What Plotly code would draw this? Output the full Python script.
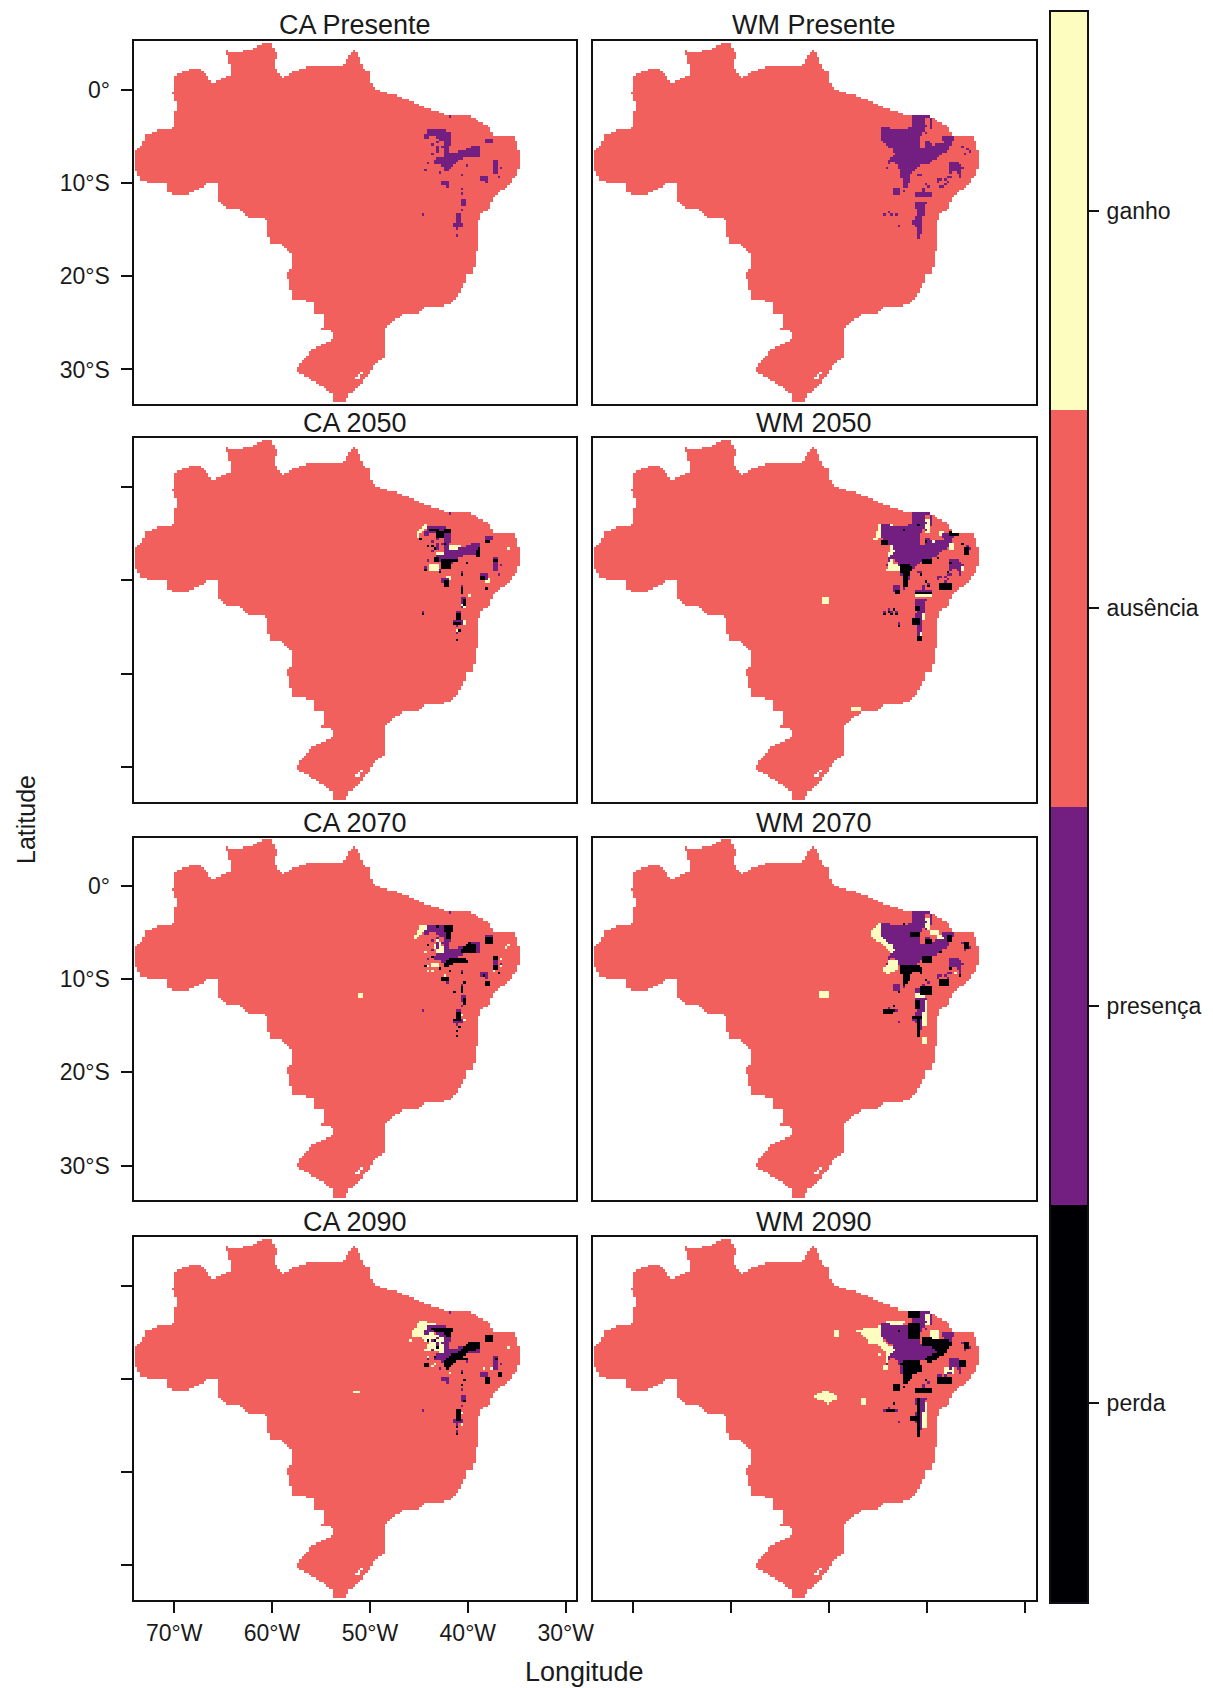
import numpy as np
import plotly.graph_objects as go
from plotly.subplots import make_subplots

# ---------- labels ----------
CLASS_LABELS = ["perda", "presença", "ausência", "ganho"]
CLASS_VALUES = [1, 2, 3, 4]
CLASS_COLORS = ["#000004", "#721F81", "#F1605D", "#FCFDBF"]
PANEL_TITLES = ["CA Presente", "WM Presente", "CA 2050", "WM 2050", "CA 2070", "WM 2070", "CA 2090", "WM 2090"]
LON_TICKS = [-70, -60, -50, -40, -30]
LON_LABELS = ["70°W", "60°W", "50°W", "40°W", "30°W"]
LAT_TICKS = [0, -10, -20, -30]
LAT_LABELS = ["0°", "10°S", "20°S", "30°S"]

# ---------- country outline (lon, lat) ----------
BRAZIL = [(-74.02,-6.5),(-73.32,-5.96),(-72.93,-4.89),(-71.37,-4.18),(-70.01,-4.11),(-69.81,-1.5),(-70.13,-0.61),(-70.09,1.53),
(-68.45,2.13),(-67.2,2.13),(-66.11,0.74),(-64.16,1.63),(-64.55,3.67),(-65.0,4.38),(-64.16,3.92),(-62.41,4.2),(-60.85,4.99),(-60.07,4.99),
(-59.49,3.67),(-59.88,2.42),(-58.9,1.35),(-57.54,2.06),(-56.37,2.42),(-52.67,2.49),(-52.47,3.2),(-51.5,4.45),(-50.72,2.42),(-49.94,1.71),
(-49.86,0.46),(-49.16,-0.08),(-46.82,-0.79),(-44.48,-1.86),(-43.12,-2.32),(-42.14,-2.75),(-39.81,-2.82),(-37.86,-4.0),(-37.47,-5.0),
(-35.32,-5.07),(-34.94,-5.78),(-34.74,-7.92),(-35.13,-9.35),(-36.3,-10.6),(-37.47,-11.49),(-37.86,-12.74),(-38.83,-13.27),(-39.03,-16.48),
(-39.22,-18.26),(-39.5,-19.69),(-40.2,-19.87),(-40.39,-20.76),(-40.98,-22.01),(-41.95,-23.08),(-44.48,-23.26),(-45.07,-23.9),(-46.82,-24.15),
(-47.99,-25.04),(-48.46,-25.57),(-48.57,-27.54),(-48.57,-28.78),(-49.35,-29.14),(-50.13,-30.39),(-51.3,-31.99),(-52.28,-32.71),(-52.67,-33.6),
(-53.76,-33.6),(-53.76,-32.71),(-54.61,-31.99),(-55.98,-31.1),(-57.54,-30.21),(-57.54,-29.85),(-55.98,-27.89),(-53.84,-26.82),(-53.84,-25.93),
(-54.93,-25.68),(-54.61,-24.15),(-55.78,-23.97),(-55.78,-22.72),(-58.12,-22.37),(-58.12,-21.47),(-58.51,-19.51),(-57.93,-18.98),(-57.93,-17.73),
(-58.82,-16.66),(-60.27,-16.48),(-60.66,-13.81),(-62.41,-13.63),(-63.38,-12.84),(-64.75,-12.74),(-65.6,-11.67),(-65.6,-9.96),(-66.5,-9.96),
(-67.67,-10.78),(-68.84,-11.31),(-70.71,-11.06),(-70.71,-9.99),(-72.15,-10.06),(-73.4,-9.63),(-74.02,-8.46)]
LAGOON_CELLS = [(-51.3,-30.9),(-51.05,-30.65),(-50.85,-30.45),(-51.05,-30.9)]

# ---------- present-day presence ----------
CA_PRES_POLY = [
 [(-44.2,-4.3),(-43.5,-4.2),(-43.1,-4.3),(-42.3,-4.3),(-41.7,-4.6),(-41.7,-6.1),(-42.0,-6.1),(-42.1,-7.2),(-42.5,-7.2),(-42.6,-5.5),(-43.1,-5.4),(-43.5,-4.8),(-44.0,-5.2),(-44.4,-5.2),(-44.4,-4.7)],
 [(-43.5,-7.4),(-42.5,-7.3),(-41.8,-6.8),(-40.8,-6.6),(-39.6,-6.1),(-38.9,-6.0),(-38.7,-6.6),(-38.8,-7.2),(-39.7,-7.2),(-40.2,-7.2),(-40.8,-7.5),(-41.3,-7.9),(-41.6,-8.3),(-42.3,-8.8),(-42.6,-8.4),(-42.9,-7.9),(-43.5,-7.9)]]
CA_PRES_RECT = [(-37.5,-37.0,-9.0,-7.6),(-38.2,-37.6,-5.8,-5.4),(-38.8,-38.1,-9.6,-9.4),(-41.1,-40.8,-14.5,-13.4),(-41.4,-40.6,-14.6,-14.2),
 (-40.6,-40.25,-12.5,-11.9),(-42.6,-42.0,-10.1,-9.9),(-42.3,-42.0,-10.45,-10.1),(-43.3,-43.0,-6.6,-6.1)]
CA_PRES_CELL = [(-41.9,-2.9),(-43.7,-6.0),(-43.1,-5.7),(-43.15,-6.3),(-43.7,-6.9),(-44.0,-8.0),(-44.25,-8.65),(-42.8,-8.9),(-40.7,-9.2),(-40.1,-8.05),
 (-36.5,-8.35),(-36.8,-9.5),(-38.0,-9.8),(-40.7,-10.6),(-40.7,-11.2),(-40.7,-13.0),(-44.6,-13.5),(-41.0,-15.0),(-41.0,-15.6),(-42.5,-6.1)]

WM_PRES_POLY = [
 [(-41.9,-2.8),(-40.2,-2.8),(-40.1,-4.0),(-40.6,-4.7),(-40.7,-6.1),(-40.3,-6.3),(-40.15,-5.4),(-39.4,-5.9),(-38.3,-5.7),(-38.6,-4.9),(-37.8,-4.9),(-37.3,-5.1),(-37.5,-5.9),(-38.0,-6.6),(-39.0,-7.3),(-39.9,-8.0),(-40.6,-7.9),(-41.1,-8.6),(-41.8,-9.1),(-41.9,-10.4),(-42.4,-10.4),(-42.8,-8.8),(-43.1,-7.9),(-44.0,-7.7),(-43.3,-7.0),(-43.5,-6.4),(-44.3,-5.9),(-44.8,-5.1),(-44.7,-4.3),(-44.15,-4.0),(-43.3,-4.3),(-42.1,-4.2),(-41.5,-3.8),(-41.5,-2.9)],
 [(-37.7,-7.9),(-37.0,-7.6),(-36.2,-8.3),(-36.6,-8.7),(-36.5,-9.6),(-36.8,-9.5),(-36.9,-8.9),(-37.5,-8.8),(-37.7,-9.1)],
 [(-41.25,-12.0),(-40.1,-12.0),(-40.2,-13.1),(-40.6,-13.8),(-40.4,-14.7),(-40.6,-15.4),(-40.85,-15.9),(-41.0,-15.9),(-41.1,-14.7),(-41.5,-14.35),(-41.25,-13.8),(-41.0,-13.1),(-41.25,-12.5)]]
WM_PRES_RECT = [(-43.4,-42.8,-11.3,-10.6),(-41.25,-39.45,-11.4,-11.0),(-40.55,-40.3,-11.0,-10.6),(-39.7,-39.5,-4.1,-2.9),(-40.2,-39.5,-2.95,-2.75)]
WM_PRES_CELL = [(-44.15,-8.45),(-43.9,-8.0),(-44.65,-4.1),(-40.0,-4.65),(-40.56,-9.05),(-40.9,-9.25),(-40.2,-10.05),(-39.9,-10.35),(-42.3,-10.95),
 (-44.4,-13.5),(-43.8,-13.2),(-43.5,-13.5),(-43.2,-13.5),(-42.95,-14.7),(-36.3,-6.05),(-35.95,-6.45),(-35.7,-6.7),(-36.15,-6.9),
 (-37.95,-9.35),(-38.2,-9.55),(-38.5,-9.7),(-38.75,-10.0),(-38.5,-10.35),(-38.25,-10.45),(-38.0,-10.2),(-37.9,-9.8),(-37.7,-9.35),(-38.75,-9.75)]

# ---------- CA 2050 ----------
CA50_LOSS_RECT = [(-42.65,-41.8,-8.8,-7.9),(-44.0,-43.15,-4.7,-4.5),(-43.3,-42.6,-5.4,-4.8),(-42.45,-41.8,-4.85,-4.6),(-43.5,-43.0,-8.05,-7.5),
 (-41.8,-41.0,-8.05,-7.7),(-39.2,-38.7,-7.35,-6.8),(-37.5,-37.0,-8.05,-7.8),(-38.7,-38.2,-10.0,-9.6),(-42.45,-42.05,-10.6,-10.05),
 (-40.8,-40.55,-11.5,-10.9),(-40.55,-40.3,-12.7,-12.1),(-41.1,-40.85,-14.3,-13.5),(-41.45,-40.75,-14.7,-14.45)]
CA50_LOSS_CELL = [(-44.35,-8.8),(-42.8,-9.05),(-40.7,-9.4),(-38.0,-10.8),(-44.6,-13.7),(-41.0,-16.3),(-40.75,-15.4),(-37.85,-5.85),(-38.1,-5.85),
 (-43.65,-6.3),(-44.0,-6.5),(-42.45,-6.15),(-44.85,-5.6),(-43.3,-6.6),(-40.1,-8.15),(-38.9,-6.7)]
CA50_GAIN_POLY = [[(-45.2,-5.4),(-45.2,-4.85),(-44.5,-4.1),(-43.3,-4.3),(-43.3,-4.5),(-44.35,-4.4),(-44.9,-5.0),(-44.9,-5.45)]]
CA50_GAIN_RECT = [(-41.95,-40.75,-6.9,-6.35),(-43.3,-42.6,-7.6,-7.0),(-44.0,-43.0,-8.9,-8.4),(-42.3,-41.8,-10.05,-9.6),(-38.2,-37.85,-10.3,-9.7),
 (-40.8,-40.35,-12.9,-12.5),(-40.75,-40.35,-14.75,-14.4)]
CA50_GAIN_CELL = [(-35.9,-6.7),(-39.85,-11.65),(-41.0,-15.3)]

# ---------- CA 2070 ----------
CA70_LOSS_POLY = [[(-42.46,-8.3),(-41.78,-7.75),(-40.07,-7.9),(-39.9,-8.1),(-41.27,-8.3),(-42.12,-8.7),(-42.53,-8.7)],
 [(-40.93,-7.05),(-39.9,-6.1),(-39.2,-6.3),(-39.2,-7.3),(-40.24,-7.3)]]
CA70_LOSS_RECT = [(-42.46,-41.44,-4.85,-4.3),(-42.3,-41.8,-5.7,-4.85),(-38.2,-37.5,-6.1,-5.6),(-37.5,-37.0,-8.0,-7.65),(-37.5,-37.0,-9.0,-8.65),
 (-42.6,-42.0,-10.2,-9.9),(-38.1,-37.85,-10.8,-10.25),(-40.8,-40.55,-11.4,-10.8),(-40.55,-40.3,-12.6,-11.95),(-41.1,-40.8,-14.5,-13.45),(-41.4,-40.9,-14.5,-14.25)]
CA70_LOSS_CELL = [(-44.35,-8.55),(-43.15,-4.3),(-44.0,-6.3),(-43.5,-7.75),(-42.8,-8.85),(-41.9,-9.15),(-40.7,-9.45),(-40.4,-10.35),(-41.25,-11.5),(-38.4,-9.75),
 (-36.8,-9.45),(-41.0,-15.6),(-41.0,-16.1),(-40.75,-15.25)]
CA70_GAIN_POLY = [[(-45.6,-5.7),(-45.0,-4.35),(-43.5,-4.15),(-44.35,-4.9),(-45.0,-5.25),(-45.2,-5.8)],
 [(-43.15,-5.6),(-42.46,-6.65),(-41.95,-7.9),(-42.63,-7.9),(-43.5,-6.65)]]
CA70_GAIN_RECT = [(-43.65,-43.15,-8.8,-8.2),(-51.15,-50.9,-11.9,-11.6)]
CA70_GAIN_CELL = [(-44.15,-8.55),(-44.0,-9.15),(-43.5,-9.15),(-44.25,-7.15),(-36.0,-6.7),(-35.9,-6.45),(-36.55,-8.0),(-36.55,-8.6),(-37.35,-9.15),(-42.3,-9.7),
 (-40.65,-12.5),(-40.65,-13.8),(-40.4,-14.4)]

# ---------- CA 2090 ----------
CA90_LOSS_POLY = [[(-42.46,-8.7),(-42.46,-8.1),(-41.78,-7.4),(-40.93,-7.05),(-40.07,-6.1),(-38.78,-6.1),(-38.71,-6.75),(-39.9,-7.05),(-40.6,-7.55),(-39.9,-7.9),(-41.1,-8.1),(-41.78,-8.55),(-41.95,-9.05)],
 [(-43.65,-4.5),(-41.45,-4.5),(-41.78,-5.6),(-42.3,-5.4),(-42.46,-5.05),(-43.65,-4.85)]]
CA90_LOSS_RECT = [(-38.2,-37.5,-5.95,-5.4),(-44.45,-44.15,-8.8,-8.25),(-36.9,-36.65,-9.75,-9.2),(-38.1,-37.85,-10.5,-9.7),(-41.1,-40.85,-14.5,-13.3)]
CA90_LOSS_CELL = [(-40.7,-9.3),(-40.4,-10.15),(-40.7,-10.7),(-41.0,-15.05),(-41.0,-15.9),(-40.4,-12.4),(-44.0,-6.0),(-43.4,-6.0),(-43.15,-6.65),(-37.05,-7.8),(-43.3,-7.55)]
CA90_GAIN_POLY = [[(-45.87,-5.25),(-45.35,-4.35),(-44.68,-3.65),(-44.0,-4.15),(-43.15,-3.95),(-43.5,-5.25),(-42.46,-5.4),(-41.95,-6.65),(-42.46,-7.15),(-44.5,-7.05),(-44.0,-6.1),(-44.85,-5.6),(-45.35,-5.5),(-45.87,-5.5)]]
CA90_GAIN_RECT = [(-51.6,-51.0,-11.5,-11.2)]
CA90_GAIN_CELL = [(-45.8,-5.8),(-44.0,-7.7),(-44.0,-8.4),(-43.65,-8.65),(-43.3,-8.5),(-41.95,-9.5),(-35.9,-6.65),(-38.4,-9.0),(-37.5,-9.0),(-40.65,-13.6),(-40.65,-14.3),(-40.65,-15.0),(-40.65,-12.9)]

# ---------- WM 2050 ----------
WM50_LOSS_POLY = [[(-42.68,-8.2),(-41.76,-8.2),(-41.48,-8.7),(-41.93,-9.5),(-41.93,-10.85),(-42.44,-10.85),(-42.44,-9.7),(-42.68,-9.15)]]
WM50_LOSS_RECT = [(-40.56,-39.54,-8.3,-7.75),(-37.66,-36.8,-5.15,-4.7),(-44.66,-43.98,-6.2,-5.8),(-36.1,-35.8,-7.2,-6.5),(-41.25,-39.54,-11.55,-11.3),
 (-41.42,-40.9,-14.65,-14.05),(-40.9,-40.56,-16.4,-15.95),(-41.08,-40.8,-13.3,-12.85),(-43.12,-42.7,-11.5,-11.15),(-38.6,-37.66,-10.85,-10.4)]
WM50_LOSS_CELL = [(-42.27,-4.55),(-40.9,-4.15),(-40.2,-5.9),(-38.75,-7.6),(-37.5,-8.2),(-37.85,-9.05),(-40.2,-10.2),(-39.9,-10.6),(-40.55,-9.35),(-44.4,-13.7),
 (-43.3,-13.1),(-43.9,-13.4),(-43.55,-13.6),(-43.2,-13.75),(-42.95,-14.85),(-36.35,-6.1)]
WM50_GAIN_POLY = [[(-45.44,-5.7),(-44.9,-3.98),(-43.4,-3.9),(-43.46,-4.35),(-44.55,-4.4),(-44.83,-5.6)],
 [(-44.32,-8.95),(-43.8,-8.1),(-42.78,-8.27),(-42.78,-9.05),(-43.98,-9.05)]]
WM50_GAIN_RECT = [(-43.98,-43.64,-8.1,-7.0),(-43.64,-43.4,-7.0,-6.3),(-40.2,-39.8,-4.85,-3.45),(-38.7,-38.2,-5.15,-4.9),(-39.4,-37.85,-6.05,-5.75),
 (-37.7,-37.4,-6.65,-6.1),(-41.08,-39.54,-11.75,-11.4),(-40.56,-40.3,-14.15,-13.25),(-40.73,-40.5,-15.9,-15.4),(-36.9,-36.3,-8.9,-8.55),
 (-50.6,-50.0,-12.4,-11.7),(-47.7,-46.9,-23.9,-23.6)]
WM50_GAIN_CELL = [(-43.4,-6.6)]

# ---------- WM 2070 ----------
WM70_LOSS_POLY = [[(-42.78,-8.45),(-40.9,-8.45),(-40.39,-8.8),(-40.56,-9.5),(-41.25,-9.15),(-41.6,-9.5),(-41.76,-10.2),(-42.44,-10.75),(-42.5,-9.7),(-42.78,-9.15)]]
WM70_LOSS_RECT = [(-40.56,-39.44,-8.2,-7.65),(-41.6,-40.75,-5.45,-5.05),(-40.22,-39.54,-6.1,-5.75),(-40.73,-39.54,-11.65,-10.7),(-38.62,-37.73,-10.7,-10.05),
 (-41.42,-40.56,-14.3,-13.95),(-41.0,-40.8,-16.15,-14.2),(-41.25,-40.8,-13.1,-12.4),(-44.32,-43.64,-13.65,-13.3),(-36.2,-35.8,-6.65,-6.1),(-38.0,-37.5,-5.9,-5.4)]
WM70_LOSS_CELL = [(-42.27,-4.25),(-43.3,-12.95),(-43.3,-13.45),(-37.5,-4.5),(-37.66,-8.9),(-36.65,-9.7),(-40.2,-10.05),(-42.95,-11.35),(-38.5,-7.05)]
WM70_GAIN_POLY = [[(-45.92,-5.05),(-44.83,-3.95),(-43.98,-3.9),(-44.15,-4.4),(-44.5,-4.5),(-44.66,-5.4),(-43.64,-6.3),(-43.12,-7.1),(-43.8,-7.2),(-44.66,-6.1),(-45.34,-5.9)],
 [(-44.5,-8.95),(-43.98,-7.9),(-42.78,-8.05),(-42.95,-8.8),(-43.8,-9.5),(-44.32,-9.5)]]
WM70_GAIN_RECT = [(-40.2,-39.8,-4.7,-3.45),(-39.8,-38.85,-5.25,-4.7),(-38.85,-38.0,-6.1,-5.4),(-40.56,-40.12,-15.05,-12.0),(-41.08,-40.4,-11.85,-11.6),
 (-40.4,-40.12,-16.85,-16.3),(-36.8,-36.47,-9.7,-9.15),(-51.0,-50.1,-12.0,-11.2)]
WM70_GAIN_CELL = [(-37.2,-9.3)]

# ---------- WM 2090 ----------
WM90_LOSS_POLY = [[(-42.6,-8.5),(-42.77,-8.15),(-40.9,-7.98),(-40.4,-9.05),(-41.4,-9.6),(-41.75,-10.3),(-42.43,-10.5),(-42.5,-9.4)],
 [(-40.4,-5.5),(-37.65,-5.85),(-37.5,-6.4),(-38.35,-7.45),(-39.87,-8.35),(-40.4,-7.8),(-39.0,-7.1),(-39.7,-6.55),(-40.4,-6.4)]]
WM90_LOSS_RECT = [(-41.9,-40.9,-3.35,-2.8),(-41.9,-40.73,-5.65,-4.05),(-43.4,-42.7,-11.2,-10.65),(-41.24,-39.53,-11.55,-11.0),(-38.85,-37.65,-10.55,-9.75),
 (-44.3,-43.65,-13.5,-13.25),(-41.0,-40.8,-16.2,-12.1),(-41.6,-40.9,-14.35,-14.0),(-36.7,-36.1,-8.6,-7.98),(-36.1,-35.7,-6.7,-6.0)]
WM90_LOSS_CELL = [(-42.95,-4.95),(-43.3,-12.7),(-43.3,-13.35),(-40.2,-10.1),(-42.4,-11.0)]
WM90_GAIN_POLY = [[(-47.3,-4.77),(-45.0,-4.4),(-44.3,-3.87),(-42.26,-3.87),(-42.43,-4.23),(-44.5,-5.1),(-44.5,-5.85),(-43.3,-6.9),(-43.8,-7.8),(-44.14,-9.05),(-44.5,-9.05),(-44.14,-7.45),(-44.82,-6.4),(-45.85,-6.2),(-46.2,-5.5)],
 [(-51.4,-11.7),(-50.62,-11.26),(-49.43,-11.47),(-49.33,-12.1),(-50.1,-12.7),(-50.62,-12.2),(-51.4,-12.1)]]
WM90_GAIN_RECT = [(-43.05,-42.1,-2.8,-2.55),(-40.2,-39.7,-4.25,-3.0),(-39.7,-38.7,-5.65,-4.75),(-40.55,-40.1,-15.1,-12.6),(-38.3,-37.3,-9.4,-8.85),
 (-46.7,-46.25,-12.7,-12.0),(-49.33,-48.98,-5.5,-4.85)]
WM90_GAIN_CELL = [(-44.75,-7.45)]

# ---------- raster grid ----------
lons = -73.875 + 0.25 * np.arange(160)
lats = 5.125 - 0.25 * np.arange(156)
LON, LAT = np.meshgrid(lons, lats)

def in_poly(poly):
    px = np.array([p[0] for p in poly]); py = np.array([p[1] for p in poly])
    inside = np.zeros(LON.shape, dtype=bool)
    for i in range(len(px)):
        j = i - 1
        with np.errstate(divide="ignore", invalid="ignore"):
            cross = ((py[i] > LAT) != (py[j] > LAT)) & (LON < (px[j] - px[i]) * (LAT - py[i]) / (py[j] - py[i]) + px[i])
        inside ^= cross
    return inside

def paint(z, code, land, polys=(), rects=(), cells=()):
    for poly in polys:
        z[in_poly(poly) & land] = code
    for w, e, s, n in rects:
        m = (LON >= w - 0.06) & (LON <= e + 0.06) & (LAT >= s - 0.06) & (LAT <= n + 0.06)
        z[m & land] = code
    for lo, la in cells:
        i = int(np.argmin(np.abs(lats - la))); j = int(np.argmin(np.abs(lons - lo)))
        if land[i, j]:
            z[i, j] = code

LAND = in_poly(BRAZIL)
for lo, la in LAGOON_CELLS:
    LAND[int(np.argmin(np.abs(lats - la))), int(np.argmin(np.abs(lons - lo)))] = False

def panel(pres, gain=((), (), ()), loss=((), (), ())):
    z = np.full(LON.shape, np.nan)
    z[LAND] = 3
    paint(z, 4, LAND, *gain)
    paint(z, 2, LAND, *pres)
    paint(z, 1, LAND, *loss)
    return z

CA_P = (CA_PRES_POLY, CA_PRES_RECT, CA_PRES_CELL)
WM_P = (WM_PRES_POLY, WM_PRES_RECT, WM_PRES_CELL)
grids = [
    panel(CA_P),
    panel(WM_P),
    panel(CA_P, (CA50_GAIN_POLY, CA50_GAIN_RECT, CA50_GAIN_CELL), ((), CA50_LOSS_RECT, CA50_LOSS_CELL)),
    panel(WM_P, (WM50_GAIN_POLY, WM50_GAIN_RECT, WM50_GAIN_CELL), (WM50_LOSS_POLY, WM50_LOSS_RECT, WM50_LOSS_CELL)),
    panel(CA_P, (CA70_GAIN_POLY, CA70_GAIN_RECT, CA70_GAIN_CELL), (CA70_LOSS_POLY, CA70_LOSS_RECT, CA70_LOSS_CELL)),
    panel(WM_P, (WM70_GAIN_POLY, WM70_GAIN_RECT, WM70_GAIN_CELL), (WM70_LOSS_POLY, WM70_LOSS_RECT, WM70_LOSS_CELL)),
    panel(CA_P, (CA90_GAIN_POLY, CA90_GAIN_RECT, CA90_GAIN_CELL), (CA90_LOSS_POLY, CA90_LOSS_RECT, CA90_LOSS_CELL)),
    panel(WM_P, (WM90_GAIN_POLY, WM90_GAIN_RECT, WM90_GAIN_CELL), (WM90_LOSS_POLY, WM90_LOSS_RECT, WM90_LOSS_CELL)),
]

# ---------- figure ----------
W, H = 1213, 1688
COLS = [(133.5, 576), (592.5, 1035.5)]
ROWS = [(41, 404), (438, 802), (837.5, 1200), (1237, 1600)]
TITLE_Y = [25, 423, 823, 1222]
FONT = "Liberation Sans, Arial, sans-serif"
TXT = "#1a1a1a"
LINE = "#111111"
TICK_SIZE = 23
TITLE_SIZE = 27

fig = make_subplots(rows=4, cols=2)
scale = []
for k, c in enumerate(CLASS_COLORS):
    scale += [[k / 4, c], [(k + 1) / 4, c]]

annotations = []
for idx, z in enumerate(grids):
    r, c = idx // 2, idx % 2
    fig.add_trace(go.Heatmap(x=lons, y=lats, z=z, coloraxis="coloraxis", hoverongaps=False), row=r + 1, col=c + 1)
    x0, x1 = COLS[c]; y0, y1 = ROWS[r]
    fig.update_xaxes(row=r + 1, col=c + 1, domain=[x0 / W, x1 / W], range=[-74.15, -28.95], showgrid=False, zeroline=False,
                     showline=True, mirror=True, linecolor=LINE, linewidth=2, automargin=False,
                     tickmode="array", tickvals=LON_TICKS, ticktext=LON_LABELS if (r == 3 and c == 0) else [""] * 5,
                     ticks="outside" if r == 3 else "", ticklen=11, tickwidth=1.6, tickcolor=LINE,
                     showticklabels=(r == 3 and c == 0), ticklabelstandoff=0,
                     tickfont=dict(family=FONT, size=TICK_SIZE, color=TXT))
    fig.update_yaxes(row=r + 1, col=c + 1, domain=[1 - y1 / H, 1 - y0 / H], range=[-33.7, 5.2], showgrid=False, zeroline=False,
                     showline=True, mirror=True, linecolor=LINE, linewidth=2, automargin=False,
                     tickmode="array", tickvals=LAT_TICKS, ticktext=LAT_LABELS,
                     ticks="outside" if c == 0 else "", ticklen=11, tickwidth=1.6, tickcolor=LINE,
                     showticklabels=(c == 0 and r in (0, 2)), ticklabelstandoff=6,
                     tickfont=dict(family=FONT, size=TICK_SIZE, color=TXT))
    annotations.append(dict(text=PANEL_TITLES[idx], x=(x0 + x1) / 2 / W, y=1 - TITLE_Y[r] / H, xref="paper", yref="paper",
                            xanchor="center", yanchor="middle", showarrow=False, font=dict(family=FONT, size=TITLE_SIZE, color=TXT)))

annotations.append(dict(text="Longitude", x=584 / W, y=1 - 1672 / H, xref="paper", yref="paper", xanchor="center", yanchor="middle",
                        showarrow=False, font=dict(family=FONT, size=TITLE_SIZE, color=TXT)))
annotations.append(dict(text="Latitude", x=26 / W, y=1 - 820 / H, xref="paper", yref="paper", xanchor="center", yanchor="middle",
                        textangle=-90, showarrow=False, font=dict(family=FONT, size=25, color=TXT)))

# class key: a one-column heatmap on its own axes
fig.add_trace(go.Heatmap(x=[0], y=CLASS_VALUES, z=[[v] for v in CLASS_VALUES], coloraxis="coloraxis", xaxis="x9", yaxis="y9", hoverinfo="skip"))

fig.update_layout(
    width=W, height=H, margin=dict(l=0, r=0, t=0, b=0, autoexpand=False), paper_bgcolor="white", plot_bgcolor="white",
    annotations=annotations, showlegend=False,
    coloraxis=dict(cmin=0.5, cmax=4.5, colorscale=scale, showscale=False),
    xaxis9=dict(domain=[1051 / W, 1087 / W], anchor="y9", range=[-0.5, 0.5], showticklabels=False, ticks="", showgrid=False,
                zeroline=False, showline=True, mirror=True, linecolor=LINE, linewidth=2, automargin=False),
    yaxis9=dict(domain=[1 - 1602 / H, 1 - 12 / H], anchor="x9", side="right", range=[0.5, 4.5], showgrid=False, zeroline=False,
                showline=True, mirror=True, linecolor=LINE, linewidth=2, automargin=False,
                tickmode="array", tickvals=CLASS_VALUES, ticktext=CLASS_LABELS,
                ticks="outside", ticklen=10, tickwidth=1.6, tickcolor=LINE, ticklabelstandoff=3,
                tickfont=dict(family=FONT, size=TICK_SIZE, color=TXT)),
)
fig.write_html("out.html", config={"displayModeBar": False}, post_script="document.body.style.margin='0';")
